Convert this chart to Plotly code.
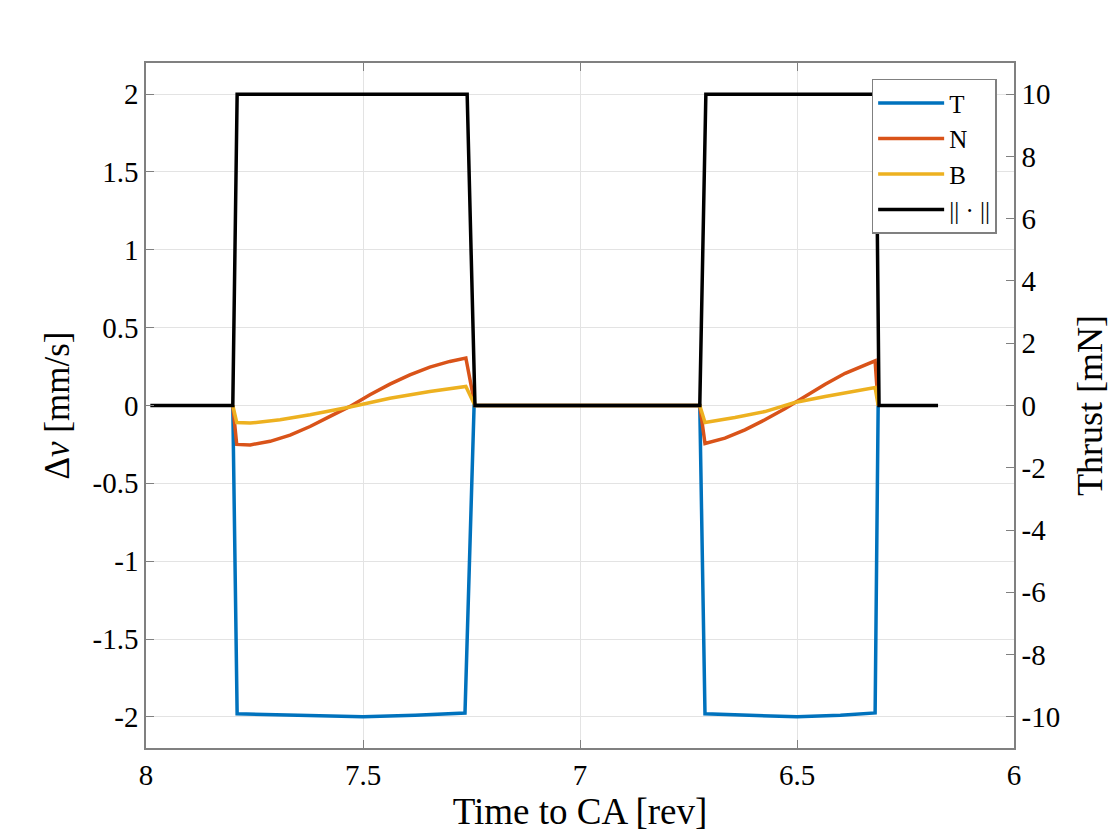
import plotly.graph_objects as go

# time to closest approach [rev] for each series
t_T = [7.80, 7.79, 7.65, 7.50, 7.38, 7.265, 7.244, 6.724, 6.712, 6.60, 6.50, 6.40, 6.320, 6.313]
dv_T = [0.0, -1.98, -1.99, -2.0, -1.99, -1.975, 0.0, 0.0, -1.98, -1.99, -2.0, -1.99, -1.975, 0.0]

t_N = [7.80, 7.791, 7.760, 7.714, 7.668, 7.622, 7.576, 7.530, 7.484, 7.438, 7.392, 7.346, 7.300, 7.263, 7.242,
       6.724, 6.712, 6.666, 6.620, 6.574, 6.528, 6.482, 6.435, 6.389, 6.320, 6.313]
dv_N = [0.0, -0.25, -0.253, -0.23, -0.19, -0.135, -0.07, -0.006, 0.069, 0.137, 0.197, 0.247, 0.283, 0.305, 0.0,
        0.0, -0.244, -0.21, -0.156, -0.092, -0.021, 0.058, 0.137, 0.207, 0.287, 0.0]

t_B = [7.80, 7.791, 7.760, 7.691, 7.622, 7.530, 7.438, 7.346, 7.263, 7.242,
       6.724, 6.712, 6.643, 6.574, 6.505, 6.435, 6.320, 6.313]
dv_B = [0.0, -0.109, -0.113, -0.092, -0.06, -0.01, 0.047, 0.09, 0.122, 0.0,
        0.0, -0.109, -0.077, -0.039, 0.019, 0.058, 0.116, 0.0]

t_norm = [7.99, 7.80, 7.79, 7.26, 7.242, 6.724, 6.710, 6.318, 6.311, 6.175]
thrust = [0, 0, 10, 10, 0, 0, 10, 10, 0, 0]

left_ticks = [-2, -1.5, -1, -0.5, 0, 0.5, 1, 1.5, 2]
right_ticks = [-10, -8, -6, -4, -2, 0, 2, 4, 6, 8, 10]
x_ticks = [8, 7.5, 7, 6.5, 6]

colors = {'T': '#0072BD', 'N': '#D95319', 'B': '#EDB120', 'norm': '#000000'}
font = 'Liberation Serif'
axis_col = '#808080'
grid_col = '#e3e3e3'


def lbl(v):
    return f"{v:g}"


fig = go.Figure()
fig.add_trace(go.Scatter(x=t_T, y=dv_T, name='T', mode='lines',
                         line=dict(color=colors['T'], width=3.5)))
fig.add_trace(go.Scatter(x=t_N, y=dv_N, name='N', mode='lines',
                         line=dict(color=colors['N'], width=3.5)))
fig.add_trace(go.Scatter(x=t_B, y=dv_B, name='B', mode='lines',
                         line=dict(color=colors['B'], width=3.5)))
fig.add_trace(go.Scatter(x=t_norm, y=thrust, name='|| \u00b7 ||', mode='lines',
                         line=dict(color=colors['norm'], width=3.5), yaxis='y2'))

fig.update_layout(
    width=1120, height=840,
    margin=dict(l=138, r=114, t=55, b=100),
    paper_bgcolor='white', plot_bgcolor='white',
    font=dict(family=font, size=29, color='black'),
    xaxis=dict(
        range=[8, 6], tickvals=x_ticks, ticktext=[lbl(v) for v in x_ticks],
        showgrid=True, gridcolor=grid_col, gridwidth=1,
        showline=True, linecolor=axis_col, linewidth=1.5, mirror='ticks',
        ticks='inside', ticklen=8, tickcolor=axis_col, zeroline=False,
        title=dict(text='Time to CA [rev]', font=dict(size=37), standoff=6),
    ),
    yaxis=dict(
        range=[-2.2, 2.2], tickvals=left_ticks, ticktext=[lbl(v) for v in left_ticks],
        showgrid=True, gridcolor=grid_col, gridwidth=1,
        showline=True, linecolor=axis_col, linewidth=1.5,
        ticks='inside', ticklen=8, tickcolor=axis_col, zeroline=False,
        title=dict(text='\u0394<i>v</i> [mm/s]', font=dict(size=35), standoff=12),
    ),
    yaxis2=dict(
        range=[-11, 11], tickvals=right_ticks, ticktext=[lbl(v) for v in right_ticks],
        overlaying='y', side='right', showgrid=False,
        showline=True, linecolor=axis_col, linewidth=1.5,
        ticks='inside', ticklen=8, tickcolor=axis_col, zeroline=False,
        title=dict(text='Thrust [mN]', font=dict(size=36), standoff=18),
    ),
    legend=dict(
        x=0.98, y=0.977, xanchor='right', yanchor='top',
        bgcolor='white', bordercolor=axis_col, borderwidth=1.5,
        font=dict(size=25), tracegroupgap=0, itemwidth=66,
    ),
    showlegend=True,
)

fig.write_html("out.html")
